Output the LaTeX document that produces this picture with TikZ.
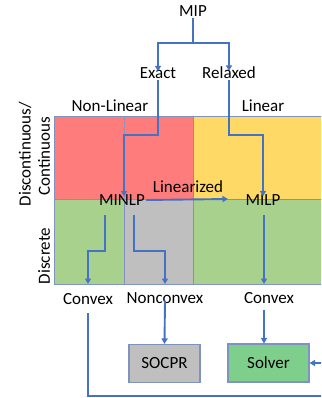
\documentclass[tikz,border=0pt]{standalone}
\usepackage{fontspec}
\setmainfont{Carlito}
\usetikzlibrary{arrows.meta}
\definecolor{cred}{HTML}{FF7C7C}
\definecolor{cyellow}{HTML}{FFD966}
\definecolor{cgreen}{HTML}{A9D18E}
\definecolor{cgray}{HTML}{BFBFBF}
\definecolor{csolver}{HTML}{7FCF8C}
\definecolor{cblue}{HTML}{4472C4}
\definecolor{cgrid}{HTML}{7E93C0}
\tikzset{
  txt/.style={font=\fontsize{17}{19}\selectfont, inner sep=1pt, text=black},
  conn/.style={draw=cblue, line width=1.9pt},
  arr/.style={conn, -{Triangle[width=6pt,length=5.5pt]}},
  gridline/.style={draw=cgrid, line width=0.9pt},
  boxnode/.style={txt, draw=cgrid, line width=1.1pt, minimum height=38pt},
}
\begin{document}
\begin{tikzpicture}[x=1pt,y=-1pt]
\clip (0,0) rectangle (321,398);
\fill[white] (0,0) rectangle (321,398);
% grid
\fill[cred] (54,116) rectangle (193,199);
\fill[cyellow] (193,116) rectangle (340,199);
\fill[cgreen] (54,199) rectangle (124,284);
\fill[cgray] (124,199) rectangle (193,284);
\fill[cgreen] (193,199) rectangle (340,284);
\draw[gridline] (54,116) rectangle (340,284);
\draw[gridline] (54,199) -- (340,199);
\draw[gridline] (193,116) -- (193,284);
\draw[gridline] (124,199) -- (124,284);
\draw[cgrid, line width=0.6pt, densely dotted] (124,116) -- (124,199);
% labels
\node[txt] (mip) at (193,11) {MIP};
\node[txt] (exact) at (158,73) {Exact};
\node[txt] (relaxed) at (229,73) {Relaxed};
\node[txt] (nonlin) at (110,106) {Non-Linear};
\node[txt] (lin) at (263,106) {Linear};
\node[txt, rotate=90] (disc) at (25,154) {Discontinuous/};
\node[txt, rotate=90] (cont) at (44,156) {Continuous};
\node[txt, rotate=90] (discrete) at (44,256) {Discrete};
\node[txt] (minlp) at (122,200) {MINLP};
\node[txt] (milp) at (263,200) {MILP};
\node[txt] (linz) at (188,187) {Linearized};
\node[txt] (cvxa) at (88,299) {Convex};
\node[txt] (ncvx) at (165,298) {Nonconvex};
\node[txt] (cvxb) at (269,298) {Convex};
\node[boxnode, fill=cgray, minimum width=71pt] (socpr) at (164.5,363.5) {SOCPR};
\node[boxnode, fill=csolver, minimum width=81pt] (solver) at (268.5,363) {Solver};
\coordinate (split) at (193,43);
\coordinate (cvxbdown) at (264,310);
% connectors
\draw[conn] (mip.south) -- (split);
\draw[arr] (split) -| ([yshift=-5pt]exact.north);
\draw[arr] (split) -| ([yshift=-5pt]relaxed.north);
\draw[arr] (exact.south) -- (158,135) -| ([xshift=2pt,yshift=-3pt]minlp.north);
\draw[arr] (relaxed.south) -- (229,135) -| ([xshift=0pt,yshift=-3pt]milp.north);
\draw[arr] (minlp.east) -- (228,199);
\draw[arr] (105,215) -- (105,251) -- (88,251) -- (88,284);
\draw[arr] (134,215) -- (134,251) -- (165,251) -- (165,284);
\draw[arr] (264,215) -- (264,284);
\draw[arr] ([yshift=4pt]ncvx.south) -- (socpr.north);
\draw[arr] (cvxbdown) -- (cvxbdown |- solver.north);
\draw[arr] (88,313) -- (88,396) -- (330,396) -- (330,363) -- (solver.east);
\end{tikzpicture}
\end{document}
